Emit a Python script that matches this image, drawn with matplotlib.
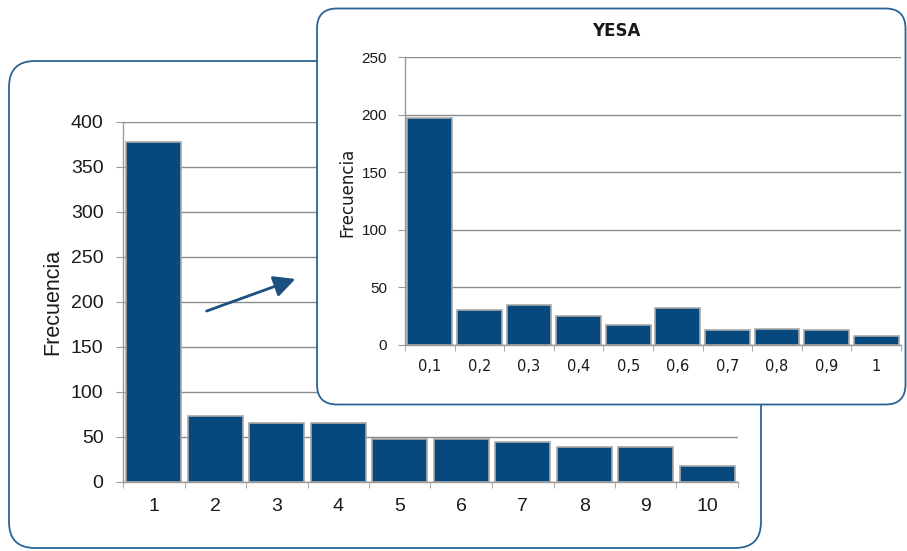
import numpy as np
import matplotlib.pyplot as plt
from matplotlib.patches import FancyBboxPatch, FancyArrowPatch

# Main histogram data
main_categories = ['1', '2', '3', '4', '5', '6', '7', '8', '9', '10']
main_values = [377, 73, 65, 65, 48, 47, 44, 39, 39, 17]

# Inset (YESA) histogram data
inset_categories = ['0,1', '0,2', '0,3', '0,4', '0,5', '0,6', '0,7', '0,8', '0,9', '1']
inset_values = [197, 30, 35, 25, 17, 32, 13, 14, 13, 8]

W, H = 907, 551
bar_color = '#07497f'
edge_color = '#a8a8a8'
frame_color = '#2a6496'
grid_color = '#8c8c8c'
text_color = '#1a1a1a'

fig = plt.figure(figsize=(W / 100, H / 100), dpi=100)


def px_rect(x0, y0, x1, y1):
    # convert pixel box (top-left origin) into figure fractions
    return [x0 / W, 1 - y1 / H, (x1 - x0) / W, (y1 - y0) / H]


def style_hist(ax, cats, vals, ymax, ystep, yfont, xfont, xfamily, xpad, ypad):
    x = np.arange(len(cats))
    ax.bar(x, vals, width=0.9, color=bar_color, edgecolor=edge_color,
           linewidth=1.2, zorder=3)
    ax.set_xlim(-0.5, len(cats) - 0.5)
    ax.set_ylim(0, ymax)
    ax.set_yticks(np.arange(0, ymax + 1, ystep))
    ax.yaxis.grid(True, color=grid_color, linewidth=1.0, zorder=0)
    ax.set_axisbelow(True)
    ax.set_facecolor('none')
    for s in ['top', 'right']:
        ax.spines[s].set_visible(False)
    for s in ['left', 'bottom']:
        ax.spines[s].set_color('#9a9a9a')
        ax.spines[s].set_linewidth(1.0)
    ax.set_xticks(x)
    ax.set_xticklabels(cats, fontsize=xfont, family=xfamily, color=text_color)
    ax.set_xticks(np.arange(-0.5, len(cats)), minor=True)
    ax.tick_params(axis='x', which='major', length=0, pad=xpad)
    ax.tick_params(axis='x', which='minor', length=4, color='#9a9a9a', direction='out')
    ax.tick_params(axis='y', length=5, color='#9a9a9a', pad=ypad,
                   labelsize=yfont, labelcolor=text_color)
    for lab in ax.get_yticklabels():
        lab.set_family('Liberation Sans')


# Background panel (back chart frame)
bg = fig.add_axes([0, 0, 1, 1], zorder=0)
bg.set_xlim(0, W)
bg.set_ylim(H, 0)
bg.axis('off')
bg.add_patch(FancyBboxPatch((9, 61), 752, 487, boxstyle='round,pad=0,rounding_size=26',
                            facecolor='white', edgecolor=frame_color, linewidth=1.3))

# Main chart
ax = fig.add_axes(px_rect(123, 121.7, 738, 481.7), zorder=1)
style_hist(ax, main_categories, main_values, 400, 50, 14, 14, 'Liberation Sans', 12, 9)
ax.set_ylabel('Frecuencia', fontsize=15.5, family='Liberation Sans', color=text_color)
ax.yaxis.set_label_coords(-0.114, 0.5)
ax.yaxis.label.set_va('center')

# Foreground panel (inset frame) and arrow
fg = fig.add_axes([0, 0, 1, 1], zorder=2)
fg.set_xlim(0, W)
fg.set_ylim(H, 0)
fg.axis('off')
fg.patch.set_alpha(0)
fg.add_patch(FancyBboxPatch((317, 8.5), 588.5, 396, boxstyle='round,pad=0,rounding_size=20',
                            facecolor='white', edgecolor=frame_color, linewidth=1.3))
fg.add_patch(FancyArrowPatch((204, 312), (298, 278), arrowstyle='-|>,head_length=10,head_width=5',
                             color='#1b4f80', linewidth=2, mutation_scale=1.3))

# Inset chart
ins = fig.add_axes(px_rect(405, 57.3, 901, 345), zorder=3)
style_hist(ins, inset_categories, inset_values, 250, 50, 11, 10.5, 'DejaVu Sans', 10, 8)
ins.set_title('YESA', fontsize=12, fontweight='bold', family='DejaVu Sans',
              color=text_color, x=0.427, pad=15)
ins.set_ylabel('Frecuencia', fontsize=12, family='DejaVu Sans', color=text_color)
ins.yaxis.set_label_coords(-0.117, 0.532)
ins.yaxis.label.set_va('center')

fig.savefig('out.png', dpi=100)
